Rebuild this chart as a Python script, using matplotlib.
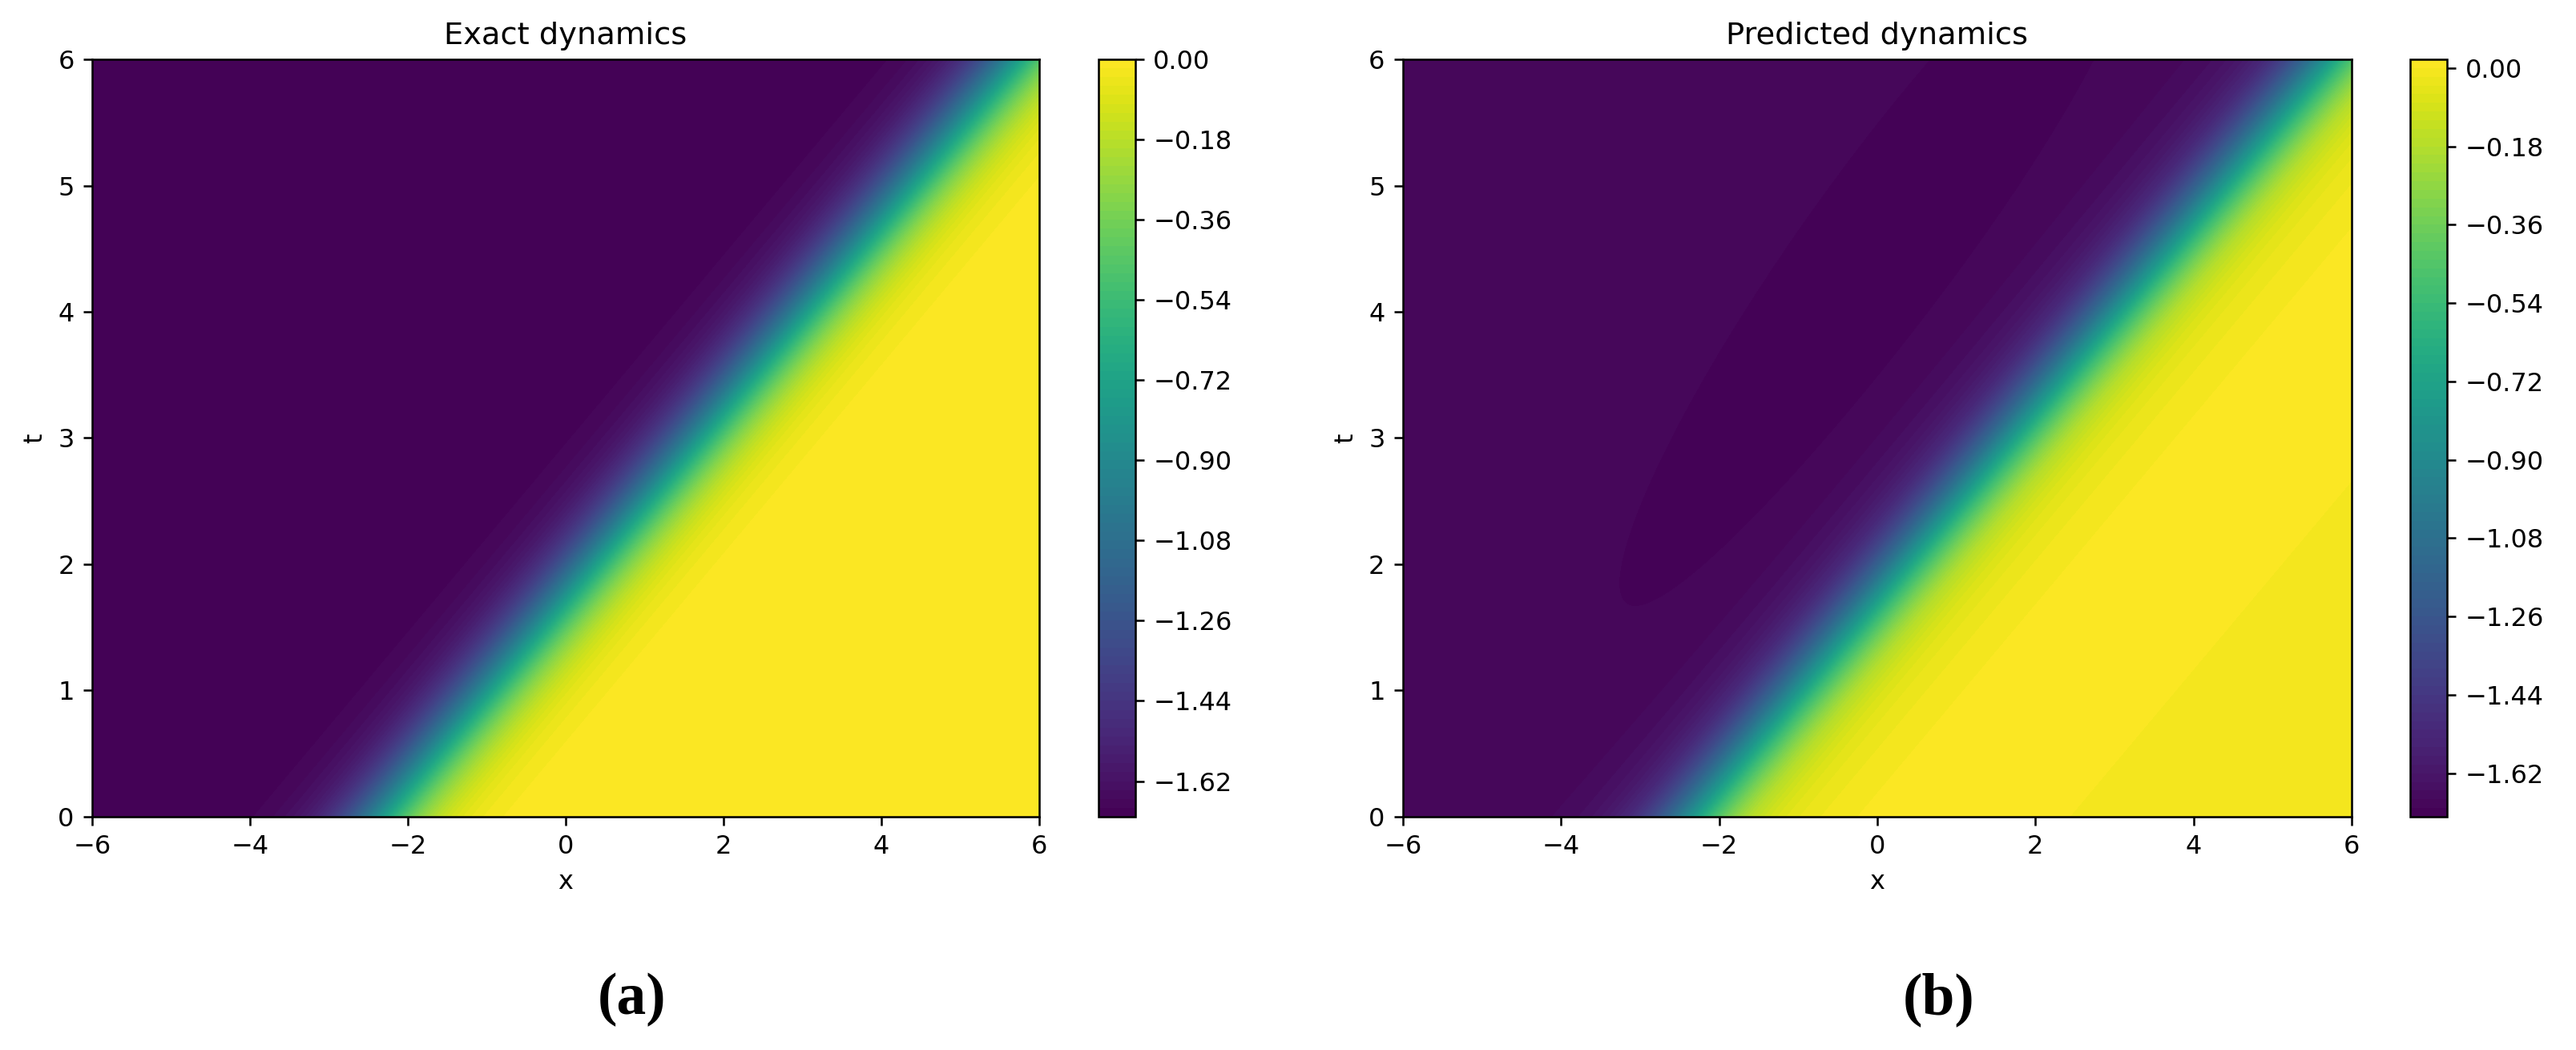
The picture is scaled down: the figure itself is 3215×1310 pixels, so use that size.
import numpy as np
import matplotlib.pyplot as plt

# domain of the plots
x_range = [-6, 6]
t_range = [0, 6]
x_ticks = [-6, -4, -2, 0, 2, 4, 6]
t_ticks = [0, 1, 2, 3, 4, 5, 6]

# travelling front: u goes from -amp (left) to 0 (right)
amp = 1.70
speed = 1.34
x_start = -2.37   # front centre at t = 0
steep = 2.8

# predicted field: small deviations from the exact front
pred_left = -1.69     # left plateau
pred_right = -0.008   # right plateau
pred_bump = 0.02      # bright stripe behind the front
bump_from, bump_to = 2.0, 4.7
dip_depth = 0.022     # darker elongated patch in the left region
dip_centre = (0.03, 4.42)
dip_dir = (0.763, 0.646)
dip_long, dip_short = 4.84, 0.96

titles = ["Exact dynamics", "Predicted dynamics"]
panel_labels = ["(a)", "(b)"]


def sig(z):
    return 1.0 / (1.0 + np.exp(-z))


x = np.linspace(x_range[0], x_range[1], 400)
t = np.linspace(t_range[0], t_range[1], 400)
X, T = np.meshgrid(x, t)
S = X - (x_start + speed * T)

u_exact = -amp * sig(-steep * S)

dx = X - dip_centre[0]
dt = T - dip_centre[1]
p = dx * dip_dir[0] + dt * dip_dir[1]
q = -dx * dip_dir[1] + dt * dip_dir[0]
dip = -dip_depth * np.exp(-(p / dip_long) ** 2 - (q / dip_short) ** 2)
left = pred_left + dip
right = pred_right + pred_bump * sig(4 * (S - bump_from)) * sig(-4 * (S - bump_to))
u_pred = left + (right - left) * sig(steep * S)

fig = plt.figure(figsize=(3215 / 230, 1310 / 230), dpi=230)
ax_pos = [[0.03577, 0.22214, 0.36765, 0.72137], [0.54463, 0.22214, 0.36827, 0.72137]]
cax_pos = [[0.42644, 0.22214, 0.01431, 0.72137], [0.93562, 0.22214, 0.01431, 0.72137]]
label_x = [789 / 3215, 2420 / 3215]

for i, U in enumerate([u_exact, u_pred]):
    ax = fig.add_axes(ax_pos[i])
    cax = fig.add_axes(cax_pos[i])
    cs = ax.contourf(X, T, U, levels=100, cmap="viridis")
    fig.colorbar(cs, cax=cax)
    ax.set_xticks(x_ticks)
    ax.set_yticks(t_ticks)
    ax.set_xlabel("x")
    ax.set_ylabel("t")
    ax.set_title(titles[i])
    fig.text(label_x[i], 1 - 1247 / 1310, panel_labels[i], ha="center", va="center",
             fontsize=23, fontweight="bold", family="Liberation Serif")

plt.savefig("out.png", dpi=230)
